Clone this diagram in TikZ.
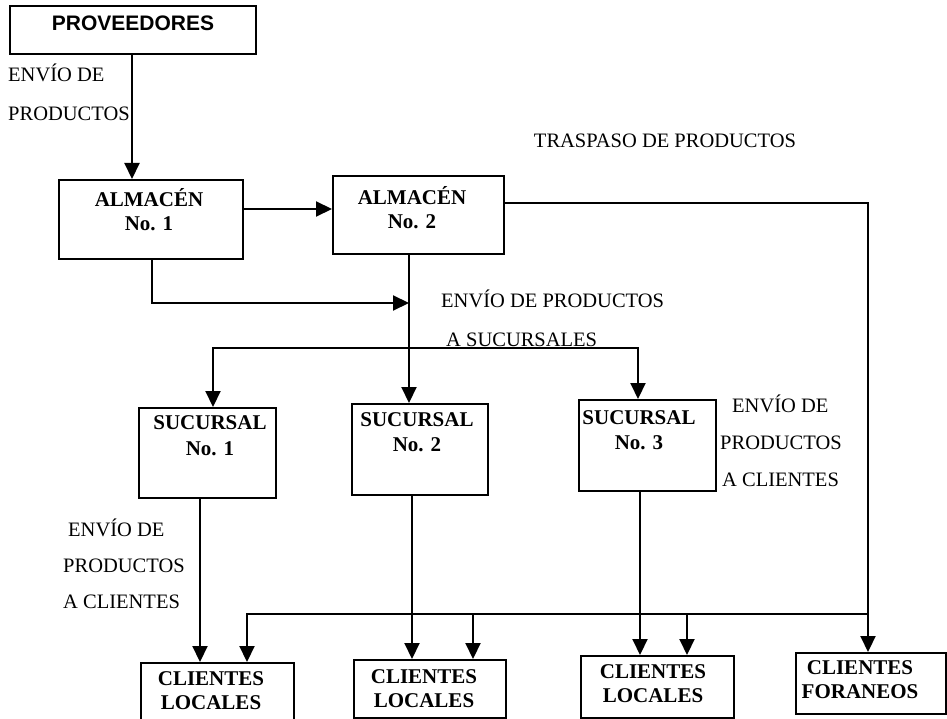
\documentclass[tikz,border=0pt]{standalone}
\usepackage{fontspec}
\setmainfont{Liberation Serif}
\newfontfamily\provfont{Liberation Sans}
\usetikzlibrary{arrows.meta}
\begin{document}
\begin{tikzpicture}[x=1pt,y=-1pt,
  box/.style={draw, line width=2.1pt, inner sep=0pt, anchor=north west},
  btxt/.style={font=\fontsize{21}{24}\selectfont\bfseries, align=center, inner sep=0pt},
  ann/.style={font=\fontsize{20.5}{38}\selectfont, align=left, inner sep=0pt, anchor=west},
  conn/.style={line width=2.1pt},
  arr/.style={conn, -{Triangle[length=16pt,width=15pt]}},
  darr/.style={conn, {Triangle[length=16pt,width=15pt]}-{Triangle[length=16pt,width=15pt]}}]
\useasboundingbox (0,0) rectangle (947,719);

% boxes
\node[box, minimum width=246pt, minimum height=48pt] (prov) at (9,5) {};
\node[box, minimum width=184pt, minimum height=79pt] (alm1) at (58,179) {};
\node[box, minimum width=171pt, minimum height=78pt] (alm2) at (332,175) {};
\node[box, minimum width=137pt, minimum height=90pt] (suc1) at (138,407) {};
\node[box, minimum width=136pt, minimum height=91pt] (suc2) at (351,403) {};
\node[box, minimum width=137pt, minimum height=91pt] (suc3) at (578,399) {};
\node[box, minimum width=153pt, minimum height=60pt] (cl1) at (140,662) {};
\node[box, minimum width=152pt, minimum height=58pt] (cl2) at (353,659) {};
\node[box, minimum width=153pt, minimum height=62pt] (cl3) at (580,655) {};
\node[box, minimum width=150pt, minimum height=61pt] (clf) at (795,652) {};

% box texts
\node[btxt, font=\fontsize{21}{24}\selectfont\provfont\bfseries] (prov-t) at (133,23) {PROVEEDORES};
\node[btxt] (alm1-t) at (149,210) {ALMACÉN\\No. 1};
\node[btxt] (alm2-t) at (412,208) {ALMACÉN\\No. 2};
\node[btxt, font=\fontsize{21}{26}\selectfont\bfseries] (suc1-t) at (210,436) {SUCURSAL\\No. 1};
\node[btxt, font=\fontsize{21}{25}\selectfont\bfseries] (suc2-t) at (417,432) {SUCURSAL\\No. 2};
\node[btxt, font=\fontsize{21}{25}\selectfont\bfseries] (suc3-t) at (639,430) {SUCURSAL\\No. 3};
\node[btxt] (cl1-t) at (211,691) {CLIENTES\\LOCALES};
\node[btxt] (cl2-t) at (424,689) {CLIENTES\\LOCALES};
\node[btxt] (cl3-t) at (653,684) {CLIENTES\\LOCALES};
\node[btxt] (clf-t) at (860,680) {CLIENTES\\FORANEOS};

% annotations
\node[ann, font=\fontsize{20.5}{39}\selectfont] (ann1) at (8,92) {ENVÍO DE\\PRODUCTOS};
\node[ann, anchor=center] (trasp) at (665,141) {TRASPASO DE PRODUCTOS};
\node[ann, font=\fontsize{20.5}{39}\selectfont] (ann2) at (441,318) {ENVÍO DE PRODUCTOS\\\hspace*{5pt}A SUCURSALES};
\node[ann, font=\fontsize{20.5}{36}\selectfont] (ann3) at (63,564) {\hspace*{5pt}ENVÍO DE\\PRODUCTOS\\A CLIENTES};
\node[ann, font=\fontsize{20.5}{37}\selectfont] (ann4) at (720,441) {\hspace*{12pt}ENVÍO DE\\PRODUCTOS\\\hspace*{2pt}A CLIENTES};

% helper coordinates
\coordinate (xA) at (132,0);
\coordinate (xB) at (152,0);
\coordinate (yA) at (0,209);
\coordinate (yB) at (0,203);
\coordinate (j1) at (409,303);
\coordinate (d1) at (213,348);
\coordinate (d3) at (638,348);
\coordinate (xs1) at (200,0);
\coordinate (xs2) at (412,0);
\coordinate (xs3) at (640,0);
\coordinate (xR) at (868,0);
\coordinate (b1) at (868,614);
\coordinate (xC) at (247,0);
\coordinate (b2) at (473,614);
\coordinate (b3) at (687,614);

% connectors
\draw[arr] (prov.south -| xA) -- (alm1.north -| xA);
\draw[arr] (alm1.east |- yA) -- (alm2.west |- yA);
\draw[arr] (alm1.south -| xB) |- (j1);
\draw[arr] (alm2.south -| j1) -- (suc2.north -| j1);
\draw[darr] (suc1.north -| d1) |- (d3) -- (suc3.north -| d3);
\draw[arr] (suc1.south -| xs1) -- (cl1.north -| xs1);
\draw[arr] (suc2.south -| xs2) -- (cl2.north -| xs2);
\draw[arr] (suc3.south -| xs3) -- (cl3.north -| xs3);
\draw[arr] (alm2.east |- yB) -| (clf.north -| xR);
\draw[arr] (b1) -| (cl1.north -| xC);
\draw[arr] (b2) -- (cl2.north -| b2);
\draw[arr] (b3) -- (cl3.north -| b3);
\end{tikzpicture}
\end{document}
